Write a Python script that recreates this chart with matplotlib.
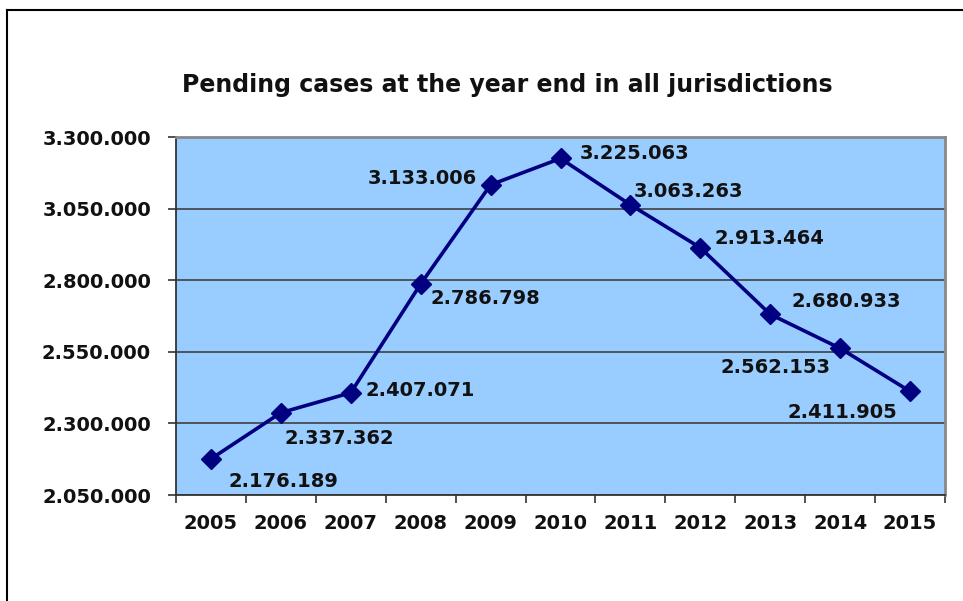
import matplotlib
matplotlib.use('Agg')
import matplotlib.pyplot as plt
from matplotlib.lines import Line2D
from matplotlib.ticker import FuncFormatter

years = ['2005', '2006', '2007', '2008', '2009', '2010', '2011', '2012', '2013', '2014', '2015']
pending = [2176189, 2337362, 2407071, 2786798, 3133006, 3225063, 3063263, 2913464, 2680933, 2562153, 2411905]
y_ticks = [2050000, 2300000, 2550000, 2800000, 3050000, 3300000]

# label offsets in pixels (dx, dy, ha)
label_pos = [(18, -23, 'left'), (4, -26, 'left'), (15, 2, 'left'), (10, -15, 'left'),
             (-14, 6, 'right'), (19, 5, 'left'), (3, 13, 'left'), (14, 9, 'left'),
             (21, 13, 'left'), (-10, -19, 'right'), (-13, -21, 'right')]

def dots(v):
    return '{:,}'.format(int(v)).replace(',', '.')

fig = plt.figure(figsize=(9.63, 6.01), dpi=100)
ax = fig.add_axes([176/963, 1-495/601, 769/963, 358/601])
ax.set_facecolor('#99ccff')

x = list(range(len(years)))
ax.plot(x, pending, color='#000080', lw=2.6, marker='D', markersize=10, zorder=3)

for i, v in enumerate(pending):
    dx, dy, ha = label_pos[i]
    ax.annotate(dots(v), (i, v), xytext=(dx, dy), textcoords='offset pixels',
                ha=ha, va='center', fontsize=14, fontweight='bold', color='#111111')

ax.set_xlim(-0.5, len(years) - 0.5)
ax.set_ylim(y_ticks[0], y_ticks[-1])
ax.set_yticks(y_ticks)
ax.yaxis.set_major_formatter(FuncFormatter(lambda v, p: dots(v)))
ax.set_xticks([i - 0.5 for i in range(len(years) + 1)])
ax.set_xticklabels([])
ax.set_xticks(x, minor=True)
ax.set_xticklabels(years, minor=True)
ax.tick_params(axis='x', which='minor', length=0, pad=14, labelsize=14)
ax.tick_params(axis='x', which='major', length=6, width=1.2, color='#333333')
ax.tick_params(axis='y', length=6, width=1.2, color='#333333', pad=12, labelsize=14)
for lab in ax.get_xticklabels(minor=True) + ax.get_yticklabels():
    lab.set_fontweight('bold')
    lab.set_color('#111111')

ax.grid(axis='y', color='#404040', lw=1.2)
ax.set_axisbelow(True)
for s in ['top', 'right']:
    ax.spines[s].set_color('#888888')
    ax.spines[s].set_linewidth(2)
for s in ['left', 'bottom']:
    ax.spines[s].set_color('#333333')
    ax.spines[s].set_linewidth(1.3)

fig.text(507/963, 1-85/601, 'Pending cases at the year end in all jurisdictions',
         ha='center', va='center', fontsize=17, fontweight='bold', color='#111111')

# outer frame (top and left edges)
fig.add_artist(Line2D([7/963, 1], [1-10/601, 1-10/601], color='black', lw=1.5))
fig.add_artist(Line2D([7/963, 7/963], [0, 1-10/601], color='black', lw=1.5))

fig.savefig('out.png', dpi=100)
